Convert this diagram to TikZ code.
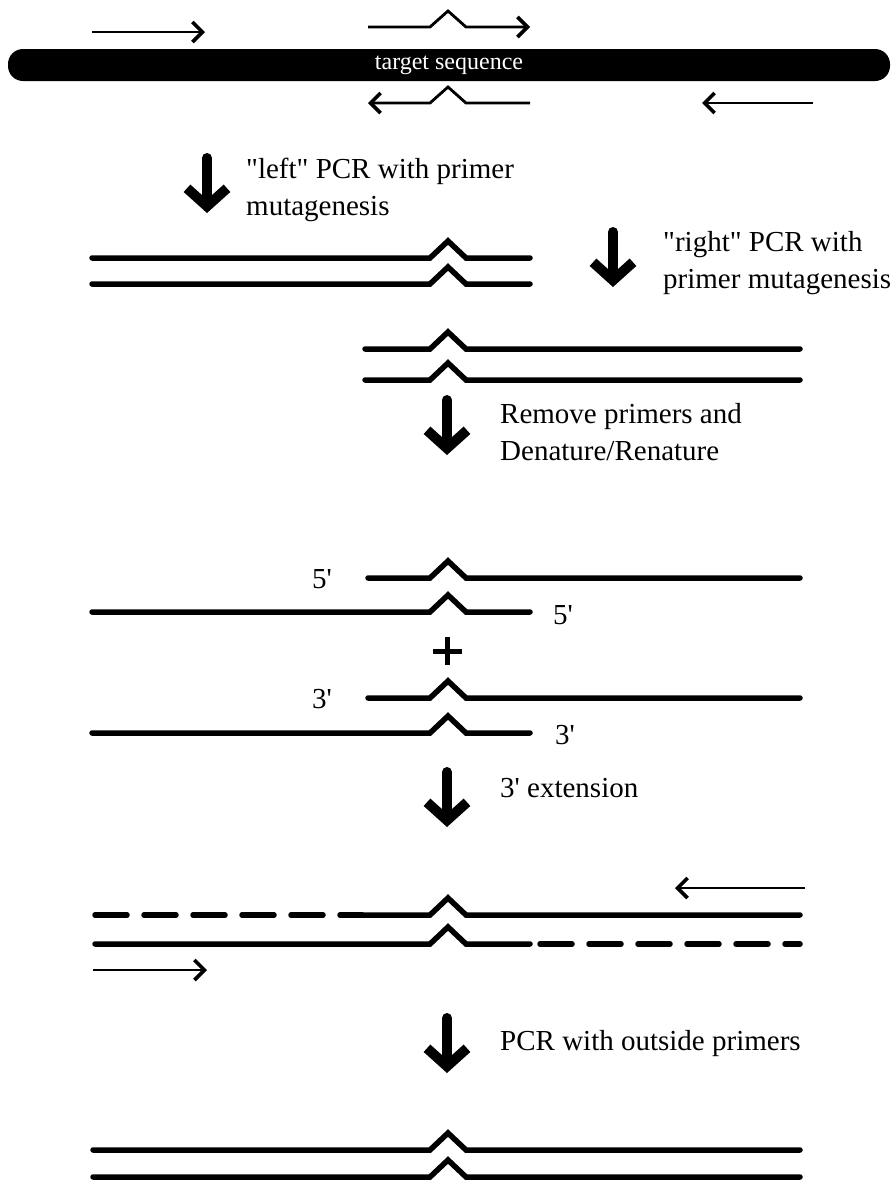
\documentclass[tikz,border=0pt]{standalone}
\usepackage{fontspec}
\setmainfont{Liberation Serif}[Ligatures=TeXOff]
\usetikzlibrary{arrows.meta}
\newcommand\dnastrand[4][]{\draw[strand,#1] (#2,#4) -- (430,#4) -- (448,{#4-17}) -- (466,#4) -- (#3,#4);}
\begin{document}
\begin{tikzpicture}[x=1pt,y=-1pt,
  strand/.style={line width=5.5pt, line cap=round, line join=miter},
  primer/.style={line width=2.8pt, line join=miter, -{Straight Barb[length=10pt,width=20pt,line width=3.6pt]}},
  stepdown/.style={line width=10pt, line cap=round, line join=round, -{Straight Barb[length=18pt,width=40pt]}},
  lbl/.style={anchor=base west, inner sep=0pt, align=left, font=\fontsize{29}{37}\selectfont},
  end/.style={anchor=base west, inner sep=0pt, font=\fontsize{29}{37}\selectfont},
  ]
\useasboundingbox (0,0) rectangle (895,1184);
% target sequence bar
\node[fill=black, rounded corners=15pt, minimum width=882pt, minimum height=32pt, inner sep=0pt,
      text=white, font=\fontsize{24}{26}\selectfont] (bar) at (449,65) {target sequence};
% primers
\coordinate (p1a) at (92,32);  \coordinate (p1b) at (205,32);
\draw[primer] (p1a) -- (p1b);
\coordinate (p2a) at (368,27); \coordinate (p2b) at (530,27);
\draw[primer] (p2a) -- (430,27) -- (448,11) -- (466,27) -- (p2b);
\coordinate (p3a) at (530,103); \coordinate (p3b) at (368,103);
\draw[primer] (p3a) -- (466,103) -- (448,87) -- (430,103) -- (p3b);
\coordinate (p4a) at (813,103); \coordinate (p4b) at (702,103);
\draw[primer] (p4a) -- (p4b);
% step 1: left PCR
\coordinate (s1a) at (207,158); \coordinate (s1b) at (207,213);
\draw[stepdown] (s1a) -- (s1b);
\node[lbl] (t1) at (246,215) {"left" PCR with primer\\mutagenesis};
\dnastrand{92}{530}{258}
\dnastrand{92}{530}{284}
% step 2: right PCR
\coordinate (s2a) at (613,232); \coordinate (s2b) at (613,287);
\draw[stepdown] (s2a) -- (s2b);
\node[lbl] (t2) at (663,288) {"right" PCR with\\primer mutagenesis};
\dnastrand{365}{800}{349}
\dnastrand{365}{800}{380}
% step 3
\coordinate (s3a) at (447,400); \coordinate (s3b) at (447,455);
\draw[stepdown] (s3a) -- (s3b);
\node[lbl] (t3) at (500,460) {Remove primers and\\Denature/Renature};
\dnastrand{368}{800}{578}
\dnastrand{92}{530}{612}
\dnastrand{368}{800}{698}
\dnastrand{92}{530}{733}
\node[end] (e1) at (312,588) {5'};
\node[end] (e2) at (553,624) {5'};
\node[end] (e3) at (312,708) {3'};
\node[end] (e4) at (555,744) {3'};
% plus
\draw[line width=5pt] (433,651) -- (462,651) (447,637) -- (447,665);
% step 4
\coordinate (s4a) at (447,772); \coordinate (s4b) at (447,827);
\draw[stepdown] (s4a) -- (s4b);
\node[end] (t4) at (500,797) {3' extension};
% extension products
\draw[strand, dash pattern=on 32pt off 17pt] (95,915) -- (362,915);
\draw[strand] (362,915) -- (430,915) -- (448,898) -- (466,915) -- (800,915);
\draw[strand] (95,944) -- (430,944) -- (448,927) -- (466,944) -- (530,944);
\draw[strand, dash pattern=on 32pt off 17pt] (540,944) -- (800,944);
\coordinate (p5a) at (805,888); \coordinate (p5b) at (675,888);
\draw[primer] (p5a) -- (p5b);
\coordinate (p6a) at (93,970); \coordinate (p6b) at (207,970);
\draw[primer] (p6a) -- (p6b);
% step 5
\coordinate (s5a) at (447,1018); \coordinate (s5b) at (447,1073);
\draw[stepdown] (s5a) -- (s5b);
\node[end] (t5) at (500,1050) {PCR with outside primers};
\dnastrand{93}{800}{1150}
\dnastrand{93}{800}{1177}
\end{tikzpicture}
\end{document}
